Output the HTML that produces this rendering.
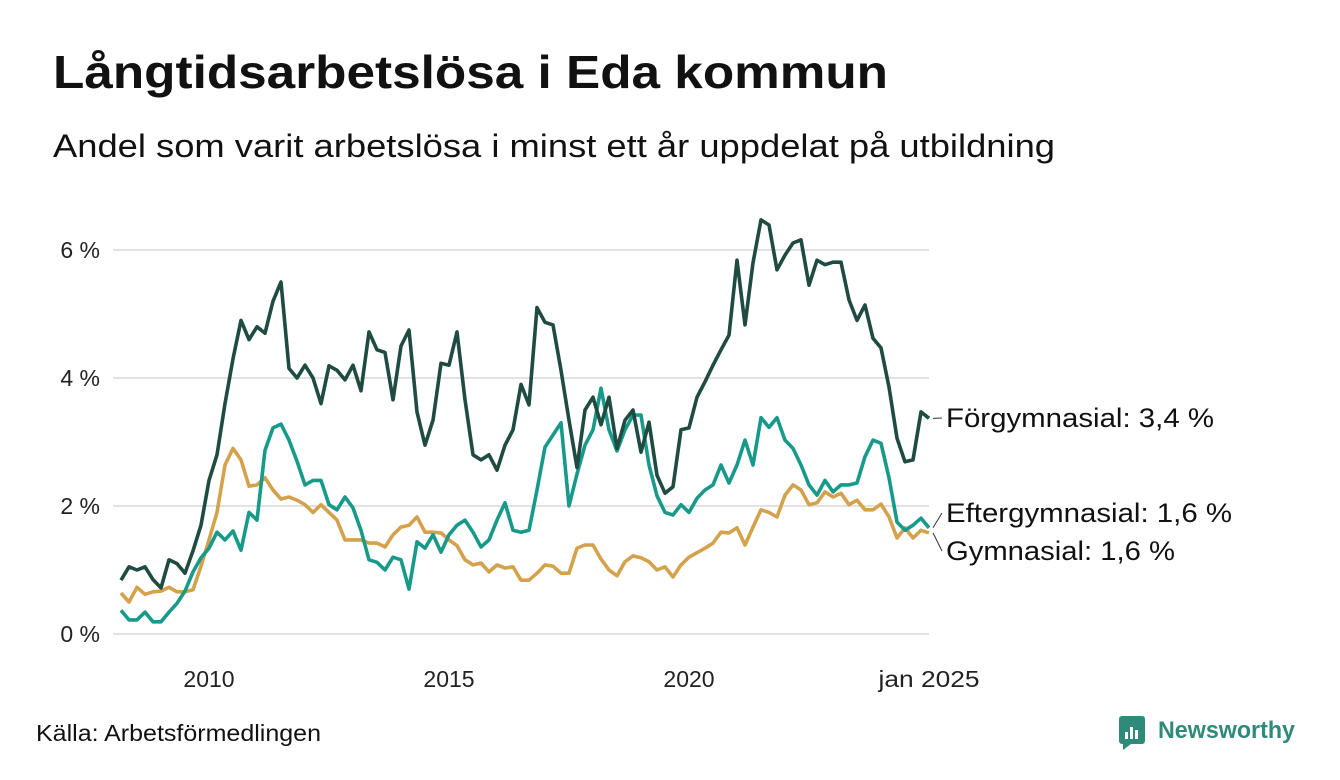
<!DOCTYPE html>
<html><head><meta charset="utf-8">
<style>
html,body{margin:0;padding:0;background:#fff;}
svg{display:block;font-family:"Liberation Sans",sans-serif;}
</style></head>
<body>
<svg id="chart" width="1340" height="780" viewBox="0 0 1340 780" xmlns="http://www.w3.org/2000/svg">
  <text x="53" y="88" font-size="46" font-weight="bold" fill="#111" textLength="835" lengthAdjust="spacingAndGlyphs">Långtidsarbetslösa i Eda kommun</text>
  <text x="53" y="157" font-size="32" fill="#111" textLength="1002" lengthAdjust="spacingAndGlyphs">Andel som varit arbetslösa i minst ett år uppdelat på utbildning</text>
  <g id="grid"></g>
  <g id="yaxis"></g>
  <g id="xaxis"></g>
  <g id="series"></g>
  <g id="labels"></g>
  <text x="36" y="741" font-size="23" fill="#111" textLength="285" lengthAdjust="spacingAndGlyphs">Källa: Arbetsförmedlingen</text>
  <g>
    <rect x="1119" y="716" width="26" height="28" rx="3" fill="#2f8a7a"/>
    <rect x="1125" y="732" width="3" height="7" fill="#fff"/>
    <rect x="1130" y="727" width="3" height="12" fill="#fff"/>
    <rect x="1135" y="730" width="3" height="9" fill="#fff"/>
    <polygon points="1123,744 1131,744 1123,750" fill="#2f8a7a"/>
    <text x="1158" y="738" font-size="24" font-weight="bold" fill="#2f8a7a" textLength="137" lengthAdjust="spacingAndGlyphs">Newsworthy</text>
  </g>
</svg>
<script>
// Bimonthly from Mar 2008, last point Jan 2025
const forgymnasial = [0.84,1.05,1.0,1.05,0.85,0.72,1.16,1.1,0.95,1.3,1.7,2.4,2.8,3.6,4.3,4.9,4.6,4.8,4.7,5.2,5.5,4.15,4.0,4.2,4.0,3.6,4.19,4.12,3.97,4.2,3.8,4.72,4.44,4.4,3.66,4.5,4.75,3.47,2.95,3.34,4.23,4.2,4.72,3.66,2.8,2.72,2.8,2.56,2.95,3.19,3.9,3.58,5.1,4.87,4.83,4.12,3.34,2.6,3.5,3.7,3.27,3.7,2.9,3.34,3.5,2.84,3.31,2.48,2.2,2.3,3.19,3.22,3.7,3.94,4.2,4.44,4.67,5.84,4.83,5.8,6.47,6.39,5.69,5.92,6.11,6.16,5.45,5.84,5.77,5.81,5.81,5.22,4.9,5.14,4.62,4.47,3.86,3.06,2.69,2.72,3.47,3.37];
const eftergymnasial = [0.37,0.22,0.22,0.34,0.19,0.19,0.34,0.48,0.67,0.97,1.19,1.34,1.59,1.47,1.61,1.31,1.9,1.78,2.87,3.22,3.28,3.03,2.7,2.33,2.4,2.4,2.02,1.94,2.14,1.97,1.62,1.16,1.12,1.0,1.2,1.16,0.7,1.44,1.34,1.55,1.28,1.55,1.7,1.78,1.59,1.36,1.47,1.78,2.05,1.62,1.59,1.62,2.25,2.92,3.11,3.3,2.0,2.5,2.95,3.19,3.84,3.19,2.86,3.19,3.42,3.42,2.64,2.16,1.9,1.86,2.02,1.9,2.12,2.25,2.33,2.64,2.36,2.64,3.03,2.64,3.38,3.23,3.38,3.03,2.9,2.64,2.33,2.17,2.4,2.22,2.33,2.33,2.36,2.77,3.03,2.98,2.44,1.75,1.62,1.7,1.81,1.66];
const gymnasial = [0.64,0.5,0.73,0.62,0.66,0.67,0.73,0.66,0.66,0.69,1.06,1.47,1.9,2.64,2.9,2.72,2.31,2.33,2.44,2.25,2.11,2.14,2.09,2.02,1.9,2.02,1.9,1.78,1.47,1.47,1.47,1.42,1.42,1.36,1.55,1.67,1.7,1.83,1.59,1.59,1.58,1.47,1.38,1.16,1.08,1.11,0.97,1.08,1.03,1.05,0.84,0.84,0.95,1.08,1.06,0.95,0.95,1.34,1.39,1.39,1.17,1.0,0.91,1.13,1.22,1.19,1.13,1.0,1.05,0.89,1.08,1.2,1.27,1.34,1.42,1.59,1.58,1.66,1.39,1.67,1.94,1.9,1.83,2.17,2.33,2.25,2.02,2.05,2.22,2.14,2.2,2.02,2.09,1.94,1.94,2.03,1.83,1.5,1.66,1.5,1.62,1.58];
const yTicks = [0,2,4,6];
const yTickLabels = ["0 %","2 %","4 %","6 %"];
const xTicks = [2010,2015,2020,2025];
const xTickLabels = ["2010","2015","2020","jan 2025"];
const seriesNames = ["Förgymnasial: 3,4 %","Eftergymnasial: 1,6 %","Gymnasial: 1,6 %"];

const NS="http://www.w3.org/2000/svg";
const X0=113, PXYEAR=48, Y0=634, PXPCT=64;
function xScale(t){return X0+(t-2008)*PXYEAR;}
function yScale(v){return Y0-v*PXPCT;}
function tOf(i){return 2008+(2+2*i)/12;}
function mk(tag,attrs,parent){const e=document.createElementNS(NS,tag);for(const k in attrs)e.setAttribute(k,attrs[k]);parent.appendChild(e);return e;}

const grid=document.getElementById('grid'), ya=document.getElementById('yaxis'), xa=document.getElementById('xaxis');
yTicks.forEach((v,i)=>{
  const l=mk('line',{x1:113,x2:929,y1:yScale(v),y2:yScale(v),stroke:'#e2e2e2','stroke-width':2},grid);
  
  
  const t=mk('text',{x:100,y:yScale(v)+8,'text-anchor':'end','font-size':23,fill:'#222'},ya);
  t.textContent=yTickLabels[i];
  
  
});
xTicks.forEach((yr,i)=>{
  const t=mk('text',{x:xScale(yr),y:687,'text-anchor':'middle','font-size':23,fill:'#222'},xa);
  t.textContent=xTickLabels[i];
  if(i===3){t.setAttribute('textLength','101');t.setAttribute('lengthAdjust','spacingAndGlyphs');}
  
  
});

const sg=document.getElementById('series');
const defs=[[gymnasial,'#d4a24c','line-gymnasial'],[eftergymnasial,'#179a8a','line-eftergymnasial'],[forgymnasial,'#1f4b42','line-forgymnasial']];
defs.forEach(([arr,col,name])=>{
  const d=arr.map((v,i)=>(i?'L':'M')+xScale(tOf(i)).toFixed(1)+','+yScale(v).toFixed(1)).join('');
  const p=mk('path',{d:d,fill:'none',stroke:col,'stroke-width':3.6,'stroke-linejoin':'round'},sg);
  
  
});

const lg=document.getElementById('labels');
const lastX=xScale(tOf(forgymnasial.length-1));
const labY=[418,513,551];
const labW=[268,286,229];
const lastVals=[forgymnasial[forgymnasial.length-1],eftergymnasial[eftergymnasial.length-1],gymnasial[gymnasial.length-1]];
seriesNames.forEach((s,i)=>{
  const ln=mk('line',{x1:lastX+4,y1:yScale(lastVals[i]),x2:942,y2:labY[i],stroke:'#333','stroke-width':1},lg);
  
  
  const t=mk('text',{x:946,y:labY[i]+9,'font-size':27,fill:'#111',textLength:labW[i],lengthAdjust:'spacingAndGlyphs'},lg);
  t.textContent=s;
  
  
});
</script>
</body></html>
